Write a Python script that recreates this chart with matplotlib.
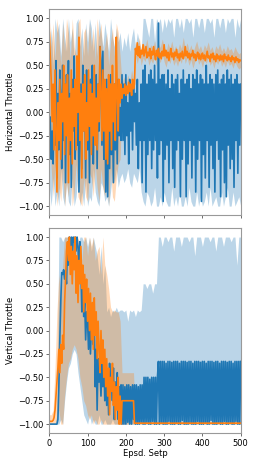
import numpy as np
import matplotlib
matplotlib.use("Agg")
import matplotlib.pyplot as plt

# mean curves are read every 2.5 steps, the shaded bands every 5 steps
line_steps = np.arange(0, 500.1, 2.5)
band_steps = np.arange(0, 501, 5)

# ---- horizontal throttle ----
h_blue = [-0.45, -0.05, -0.5, -0.2, -0.55, 0.1, -0.35, 0.55, -0.7, 0.2,
          -0.4, 0.45, 0.1, -0.6, 0.5, -0.3, 0.3, -0.75, 0.4, -0.1,
          0.55, -0.45, 0.2, -0.8, 0.35, -0.2, 0.6, -0.5, 0.1, -0.35,
          0.4, -0.85, -0.3, 0.3, -0.6, 0.5, -0.2, 0.25, -0.7, 0.45,
          -0.4, 0.2, -0.75, 0.35, -0.1, 0.5, -0.55, 0.15, -0.3, 0.4,
          -0.6, 0.3, -0.2, 0.7, 0.55, -0.35, 0.65, -0.5, 0.2, -0.85,
          0.35, -0.9, 0.2, -0.6, 0.4, -0.45, 0.1, -0.75, 0.3, -0.4,
          0.15, -0.55, 0.35, -0.25, 0.05, -0.3, 0.4, -0.3, 0.3, -0.45,
          0.4, -0.25, 0.1, -0.55, 0.35, -0.2, 0.25, -0.4, 0.3, -0.1,
          0.2, -0.35, 0.35, -0.6, 0.1, -0.3, 0.3, -0.75, 0.45, -0.3,
          0.5, -0.85, 0.3, -0.45, 0.4, -0.3, 0.45, -0.6, 0.35, -0.4,
          0.5, -0.3, 0.3, -0.7, 0.95, -0.45, 0.35, -0.3, 0.4, -0.95,
          0.4, -0.5, 0.3, -0.35, 0.45, -0.75, 0.25, -0.3, 0.4, -0.6,
          0.3, -0.8, 0.35, -0.4, 0.4, -0.3, 0.2, -0.9, 0.35, -0.5,
          0.45, -0.3, 0.3, -0.9, 0.35, -0.55, 0.4, -0.3, 0.25, -0.7,
          0.4, -0.35, 0.35, -0.85, 0.45, -0.5, 0.3, -0.3, 0.4, -0.95,
          0.35, -0.45, 0.3, -0.7, 0.5, -0.3, 0.3, -0.8, 0.4, -0.35,
          0.35, -0.6, 0.3, -0.85, 0.4, -0.3, 0.45, -0.5, 0.3, -0.9,
          0.35, -0.4, 0.4, -0.75, 0.3, -0.9, 0.45, -0.35, 0.35, -0.6,
          0.4, -0.5, 0.3, -0.8, 0.35, -0.3, 0.4, -0.65, 0.3, -0.35,
          0.3]
h_orange = [0.85, 0.6, 0.35, -0.1, 0.3, -0.4, 0.45, -0.2, -0.85, 0.1,
            -0.3, 0.35, -0.5, 0.2, -0.1, 0.5, -0.45, 0.3, -0.25, 0.4,
            -0.75, 0.15, -0.3, 0.45, -0.55, 0.25, -0.15, 0.35, -0.4, 0.6,
            0.0, 0.8, -0.3, 0.2, -0.7, 0.3, -0.2, 0.4, -0.5, 0.1,
            -0.3, 0.45, -0.15, 0.3, -0.45, 0.2, -0.25, 0.5, -0.35, 0.15,
            -0.4, 0.3, -0.1, 0.7, 0.2, -0.3, 0.45, -0.2, 0.35, -0.5,
            0.25, -0.55, 0.4, -0.2, 0.3, -0.4, 0.5, -0.1, 0.3, -0.3,
            0.8, 0.2, -0.2, 0.35, 0.1, 0.3, 0.15, 0.25, 0.2, 0.3,
            0.18, 0.28, 0.2, 0.32, 0.22, 0.3, 0.18, 0.35, 0.25, 0.3,
            0.68, 0.62, 0.74, 0.6, 0.7, 0.58, 0.66, 0.62, 0.72, 0.6,
            0.65, 0.7, 0.58, 0.64, 0.6, 0.68, 0.57, 0.65, 0.61, 0.7,
            0.62, 0.56, 0.66, 0.6, 0.68, 0.58, 0.63, 0.57, 0.65, 0.6,
            0.72, 0.6, 0.66, 0.58, 0.64, 0.55, 0.62, 0.68, 0.59, 0.63,
            0.56, 0.64, 0.6, 0.67, 0.58, 0.62, 0.55, 0.63, 0.59, 0.65,
            0.57, 0.61, 0.7, 0.6, 0.65, 0.58, 0.63, 0.56, 0.62, 0.6,
            0.66, 0.58, 0.62, 0.55, 0.6, 0.64, 0.57, 0.62, 0.56, 0.6,
            0.63, 0.57, 0.61, 0.55, 0.6, 0.65, 0.58, 0.6, 0.54, 0.62,
            0.58, 0.63, 0.56, 0.6, 0.54, 0.62, 0.57, 0.6, 0.55, 0.61,
            0.56, 0.6, 0.54, 0.62, 0.57, 0.59, 0.55, 0.61, 0.56, 0.58,
            0.54, 0.6, 0.56, 0.58, 0.53, 0.59, 0.55, 0.57, 0.53, 0.56,
            0.55]
h_blue_lo = [-0.8, -1.0, -0.7, -1.0, -0.85, -1.0, -0.6, -0.9, -1.0, -0.75,
             -0.95, -1.0, -0.7, -1.0, -0.9, -0.65, -1.0, -0.85, -1.0, -0.7,
             -1.0, -0.9, -0.95, -0.6, -0.85, -0.95, -1.0, -0.75, -0.8, -0.95,
             -0.9, -1.0, -0.85, -0.65, -0.75, -0.6, -0.8, -0.7, -0.65, -0.75,
             -0.7, -0.6, -0.75, -0.8, -0.65, -0.7, -0.75, -0.6, -0.85, -0.95,
             -1.0, -0.85, -0.9, -1.0, -0.95, -0.8, -1.0, -1.0, -0.9, -1.0,
             -0.85, -0.95, -1.0, -1.0, -0.8, -1.0, -0.9, -1.0, -0.85, -1.0,
             -1.0, -0.9, -1.0, -0.8, -0.95, -1.0, -1.0, -0.85, -1.0, -0.9,
             -1.0, -0.95, -0.85, -1.0, -0.8, -1.0, -0.95, -0.9, -1.0, -1.0,
             -0.85, -1.0, -0.9, -0.8, -1.0, -1.0, -0.85, -1.0, -0.95, -0.9,
             -1.0]
h_blue_hi = [0.6, 0.9, 0.5, 1.0, 0.85, 0.95, 0.6, 1.0, 0.8, 0.65,
             1.0, 0.75, 0.9, 0.55, 0.95, 1.0, 0.7, 0.9, 0.6, 0.95,
             0.75, 1.0, 0.9, 0.65, 0.95, 0.6, 1.0, 0.85, 0.7, 0.95,
             0.8, 0.65, 1.0, 0.8, 0.7, 0.9, 0.75, 0.85, 0.65, 0.8,
             0.7, 0.85, 0.65, 0.8, 0.9, 0.7, 0.85, 0.75, 0.65, 1.0,
             1.0, 0.9, 0.8, 1.0, 1.0, 0.75, 1.0, 0.95, 1.0, 0.85,
             1.0, 0.9, 1.0, 0.95, 1.0, 0.8, 1.0, 1.0, 0.9, 1.0,
             0.85, 1.0, 1.0, 0.95, 1.0, 0.8, 1.0, 1.0, 0.9, 1.0,
             1.0, 0.85, 1.0, 1.0, 0.95, 1.0, 0.8, 1.0, 1.0, 0.9,
             1.0, 1.0, 0.85, 1.0, 0.95, 1.0, 1.0, 0.8, 1.0, 0.9,
             1.0]
h_orange_lo = [-0.1, -0.6, -0.9, -0.55, -1.0, -0.8, -0.95, -0.6, -1.0, -0.75,
               -0.9, -0.6, -1.0, -0.85, -0.55, -0.9, -0.95, -1.0, -0.7, -0.9,
               -0.95, -0.65, -0.7, -0.9, -0.55, -0.8, -0.95, -0.6, -0.8, -0.9,
               -0.7, -1.0, -0.6, -0.9, -0.95, -0.7, -0.55, -0.5, 0.1, 0.18,
               0.08, 0.2, 0.12, 0.25, 0.15, 0.6, 0.52, 0.64, 0.5, 0.58,
               0.54, 0.62, 0.5, 0.56, 0.52, 0.6, 0.49, 0.57, 0.53, 0.62,
               0.54, 0.48, 0.58, 0.52, 0.6, 0.5, 0.55, 0.49, 0.57, 0.52,
               0.64, 0.52, 0.58, 0.5, 0.56, 0.47, 0.54, 0.6, 0.51, 0.55,
               0.48, 0.56, 0.52, 0.59, 0.5, 0.54, 0.47, 0.55, 0.51, 0.57,
               0.49, 0.53, 0.48, 0.55, 0.5, 0.52, 0.47, 0.54, 0.49, 0.46,
               0.48]
h_orange_hi = [1.0, 0.7, 0.95, 0.55, 1.0, 0.8, 0.5, 0.95, 0.65, 1.0,
               0.85, 0.55, 1.0, 0.7, 0.6, 0.95, 1.0, 0.5, 0.85, 0.9,
               0.6, 0.95, 0.7, 0.9, 0.55, 1.0, 0.8, 0.95, 0.6, 0.7,
               0.85, 0.5, 0.75, 0.9, 0.6, 0.95, 0.85, 0.6, 0.3, 0.38,
               0.28, 0.4, 0.32, 0.45, 0.35, 0.76, 0.68, 0.8, 0.66, 0.74,
               0.7, 0.78, 0.66, 0.72, 0.68, 0.76, 0.65, 0.73, 0.69, 0.78,
               0.7, 0.64, 0.74, 0.68, 0.76, 0.66, 0.71, 0.65, 0.73, 0.68,
               0.8, 0.68, 0.74, 0.66, 0.72, 0.63, 0.7, 0.76, 0.67, 0.71,
               0.64, 0.72, 0.68, 0.75, 0.66, 0.7, 0.63, 0.71, 0.67, 0.73,
               0.65, 0.69, 0.64, 0.71, 0.66, 0.68, 0.63, 0.7, 0.65, 0.62,
               0.64]

# ---- vertical throttle ----
v_blue = [-1.0, -1.0, -1.0, -1.0, -1.0, -1.0, -1.0, -1.0, -1.0, -0.95,
          -0.6, -0.1, 0.3, 0.62, 0.6, 0.65, 0.55, 0.63, 0.5, 0.9,
          0.7, 1.0, 0.9, 1.0, 0.75, 1.0, 0.95, 1.0, 0.85, 1.0,
          0.9, 0.6, 0.95, 0.7, 0.2, 0.5, 0.15, 0.3, -0.1, 0.2,
          0.1, -0.2, 0.15, -0.25, 0.05, 0.2, -0.15, 0.1, -0.6, -0.2,
          -0.85, -0.3, -0.55, -0.4, -0.7, -0.35, -0.6, -0.3, -0.75, -0.5,
          -0.8, -0.45, -0.9, -0.35, -0.65, -0.5, -0.75, -0.4, -0.95, -0.55,
          -0.7, -0.45, -0.95, -0.6, -0.8, -0.58, -1.0, -0.58, -1.0, -0.6,
          -1.0, -0.58, -0.98, -0.58, -1.0, -0.6, -1.0, -0.58, -0.95, -0.58,
          -1.0, -0.58, -1.0, -0.6, -1.0, -0.58, -0.98, -0.58, -1.0, -0.5,
          -1.0, -0.5, -0.98, -0.5, -1.0, -0.52, -1.0, -0.5, -0.97, -0.5,
          -1.0, -0.5, -1.0, -0.5, -0.33, -1.0, -0.33, -0.98, -0.33, -1.0,
          -0.33, -1.0, -0.35, -1.0, -0.33, -0.97, -0.33, -1.0, -0.34, -1.0,
          -0.33, -1.0, -0.33, -0.98, -0.33, -1.0, -0.35, -1.0, -0.33, -0.96,
          -0.33, -1.0, -0.33, -1.0, -0.34, -1.0, -0.33, -0.98, -0.33, -1.0,
          -0.35, -1.0, -0.33, -1.0, -0.33, -0.97, -0.33, -1.0, -0.34, -1.0,
          -0.33, -1.0, -0.33, -0.98, -0.35, -1.0, -0.33, -1.0, -0.33, -0.96,
          -0.33, -1.0, -0.34, -1.0, -0.33, -1.0, -0.33, -0.98, -0.35, -1.0,
          -0.33, -1.0, -0.33, -0.97, -0.33, -1.0, -0.34, -1.0, -0.33, -0.98,
          -0.33, -1.0, -0.35, -1.0, -0.33, -0.97, -0.33, -1.0, -0.33, -1.0,
          -0.33]
v_orange = [-0.97, -0.97, -0.97, -0.97, -0.96, -0.93, -0.85, -0.7, -0.55, -0.4,
            -0.2, -0.45, -0.15, -0.35, -0.05, -0.2, 0.3, 0.55, 0.85, 0.95,
            0.75, 1.0, 0.6, 0.9, 0.5, 0.85, 0.65, 1.0, 0.4, 0.8,
            0.3, 0.75, 0.5, 0.9, 0.45, 0.7, 0.2, 0.6, 0.3, 0.55,
            0.1, 0.45, 0.0, 0.4, -0.1, 0.3, -0.2, 0.35, -0.05, 0.2,
            -0.3, 0.1, -0.2, -0.45, 0.0, -0.35, -0.1, -0.5, -0.2, -0.6,
            -0.3, -0.7, -0.4, -0.9, -0.5, -0.65, -0.35, -0.8, -0.55, -0.95,
            -0.6, -0.85, -0.5, -1.0, -0.7, -1.0, -0.75, -0.75, -0.75, -0.75,
            -0.75, -0.75, -0.75, -0.75, -0.75, -0.75, -0.75, -0.75, -0.75, -0.99,
            -0.99, -0.99, -0.99, -0.99, -0.99, -0.99, -0.99, -0.99, -0.99, -0.99,
            -0.99, -0.99, -0.99, -0.99, -0.99, -0.99, -0.99, -0.99, -0.99, -0.99,
            -0.99, -0.99, -0.99, -0.99, -0.99, -0.99, -0.99, -0.99, -0.99, -0.99,
            -0.99, -0.99, -0.99, -0.99, -0.99, -0.99, -0.99, -0.99, -0.99, -0.99,
            -0.99, -0.99, -0.99, -0.99, -0.99, -0.99, -0.99, -0.99, -0.99, -0.99,
            -0.99, -0.99, -0.99, -0.99, -0.99, -0.99, -0.99, -0.99, -0.99, -0.99,
            -0.99, -0.99, -0.99, -0.99, -0.99, -0.99, -0.99, -0.99, -0.99, -0.99,
            -0.99, -0.99, -0.99, -0.99, -0.99, -0.99, -0.99, -0.99, -0.99, -0.99,
            -0.99, -0.99, -0.99, -0.99, -0.99, -0.99, -0.99, -0.99, -0.99, -0.99,
            -0.99, -0.99, -0.99, -0.99, -0.99, -0.99, -0.99, -0.99, -0.99, -0.99,
            -0.99, -0.99, -0.99, -0.99, -0.99, -0.99, -0.99, -0.99, -0.99, -0.99,
            -0.99]
v_blue_lo = [-1.0, -1.0, -1.0, -1.0, -1.0, -1.0, -0.95, -1.0, -0.75, -0.55,
             -0.4, -0.35, -0.25, -0.2, -0.25, -0.45, -0.6, -0.75, -0.9, -0.95,
             -1.0, -0.9, -1.0, -0.95, -1.0, -1.0, -0.9, -1.0, -1.0, -0.95,
             -1.0, -1.0, -1.0, -0.95, -1.0, -1.0, -1.0, -1.0, -1.0, -1.0,
             -1.0, -1.0, -1.0, -1.0, -1.0, -1.0, -1.0, -1.0, -1.0, -1.0,
             -1.0, -1.0, -1.0, -1.0, -1.0, -1.0, -1.0, -1.0, -1.0, -1.0,
             -1.0, -1.0, -1.0, -1.0, -1.0, -1.0, -1.0, -1.0, -1.0, -1.0,
             -1.0, -1.0, -1.0, -1.0, -1.0, -1.0, -1.0, -1.0, -1.0, -1.0,
             -1.0, -1.0, -1.0, -1.0, -1.0, -1.0, -1.0, -1.0, -1.0, -1.0,
             -1.0, -1.0, -1.0, -1.0, -1.0, -1.0, -1.0, -1.0, -1.0, -1.0,
             -1.0]
v_blue_hi = [-1.0, -1.0, -1.0, -1.0, -0.9, 1.0, 1.0, 0.95, 1.0, 1.0,
             1.0, 0.95, 1.0, 1.0, 1.0, 0.9, 1.0, 1.0, 0.95, 1.0,
             0.9, 1.0, 0.85, 1.0, 0.9, 0.8, 0.6, 0.9, 0.5, 0.7,
             0.2, 0.25, 0.15, 0.22, 0.2, 0.25, 0.2, 0.22, 0.22, 0.2,
             0.22, 0.1, 0.22, 0.2, 0.22, 0.15, 0.22, 0.2, 0.22, 0.5,
             0.5, 0.45, 0.5, 0.5, 0.4, 0.5, 0.5, 1.0, 1.0, 0.9,
             1.0, 1.0, 0.95, 1.0, 1.0, 0.85, 1.0, 1.0, 1.0, 0.9,
             1.0, 1.0, 1.0, 0.95, 1.0, 1.0, 0.8, 1.0, 1.0, 1.0,
             0.9, 1.0, 1.0, 1.0, 0.95, 1.0, 1.0, 0.85, 1.0, 1.0,
             1.0, 0.9, 1.0, 1.0, 1.0, 0.95, 1.0, 1.0, 0.7, 1.0,
             1.0]
v_orange_lo = [-1.0, -1.0, -1.0, -1.0, -0.95, -0.85, -1.0, -1.0, -0.7, -0.5,
               -0.35, -0.3, -0.2, -0.15, -0.2, -0.3, -0.5, -0.6, -0.75, -0.8,
               -0.9, -0.95, -0.9, -1.0, -0.95, -1.0, -1.0, -0.95, -1.0, -1.0,
               -1.0, -1.0, -1.0, -1.0, -1.0, -1.0, -1.0, -1.0, -1.0, -1.0,
               -1.0, -1.0, -1.0, -1.0, -1.0, -1.0, -1.0, -1.0, -1.0, -1.0,
               -1.0, -1.0, -1.0, -1.0, -1.0, -1.0, -1.0, -1.0, -1.0, -1.0,
               -1.0, -1.0, -1.0, -1.0, -1.0, -1.0, -1.0, -1.0, -1.0, -1.0,
               -1.0, -1.0, -1.0, -1.0, -1.0, -1.0, -1.0, -1.0, -1.0, -1.0,
               -1.0, -1.0, -1.0, -1.0, -1.0, -1.0, -1.0, -1.0, -1.0, -1.0,
               -1.0, -1.0, -1.0, -1.0, -1.0, -1.0, -1.0, -1.0, -1.0, -1.0,
               -1.0]
v_orange_hi = [-0.9, -0.9, -0.85, -0.4, 0.2, 0.6, 0.3, 0.7, 1.0, 1.0,
               1.0, 0.8, 1.0, 0.95, 0.7, 1.0, 0.9, 0.75, 1.0, 1.0,
               0.8, 1.0, 0.9, 1.0, 0.75, 0.85, 0.9, 0.6, 1.0, 0.7,
               0.6, 0.45, 0.25, 0.2, 0.22, 0.2, 0.2, 0.1, -0.45, -0.45,
               -0.45, -0.45, -0.45, -0.45, -0.45, -0.97, -0.97, -0.97, -0.97, -0.97,
               -0.97, -0.97, -0.97, -0.97, -0.97, -0.97, -0.97, -0.97, -0.97, -0.97,
               -0.97, -0.97, -0.97, -0.97, -0.97, -0.97, -0.97, -0.97, -0.97, -0.97,
               -0.97, -0.97, -0.97, -0.97, -0.97, -0.97, -0.97, -0.97, -0.97, -0.97,
               -0.97, -0.97, -0.97, -0.97, -0.97, -0.97, -0.97, -0.97, -0.97, -0.97,
               -0.97, -0.97, -0.97, -0.97, -0.97, -0.97, -0.97, -0.97, -0.97, -0.97,
               -0.97]

blue = "#1f77b4"
orange = "#ff7f0e"
plt.rcParams["font.family"] = ["DejaVu Sans"]

fig = plt.figure(figsize=(2.58, 4.66), dpi=100)
ax1 = fig.add_axes([0.191, 0.5386, 0.742, 0.442])
ax2 = fig.add_axes([0.191, 0.0708, 0.742, 0.4406], sharex=ax1)

panels = [
    (ax1, h_blue, h_blue_lo, h_blue_hi, h_orange, h_orange_lo, h_orange_hi, "Horizontal Throttle"),
    (ax2, v_blue, v_blue_lo, v_blue_hi, v_orange, v_orange_lo, v_orange_hi, "Vertical Throttle"),
]
for ax, b, blo, bhi, o, olo, ohi, label in panels:
    ax.fill_between(band_steps, blo, bhi, color=blue, alpha=0.3, lw=0)
    ax.fill_between(band_steps, olo, ohi, color=orange, alpha=0.3, lw=0)
    ax.plot(line_steps, b, color=blue, lw=1.2)
    ax.plot(line_steps, o, color=orange, lw=1.2)
    ax.set_ylabel(label, fontsize=6, labelpad=2)
    ax.set_xlim(0, 500)
    ax.set_ylim(-1.095, 1.1)
    ax.set_yticks(np.arange(-1.0, 1.01, 0.25))
    ax.tick_params(labelsize=6, length=2, width=0.6, pad=2, color="#555555")
    for sp in ax.spines.values():
        sp.set_color("#999999")
        sp.set_linewidth(0.8)

ax1.tick_params(labelbottom=False)
ax2.set_xticks([0, 100, 200, 300, 400, 500])
ax2.set_xlabel("Epsd. Setp", fontsize=6, labelpad=1)

fig.savefig("out.png", dpi=100)
